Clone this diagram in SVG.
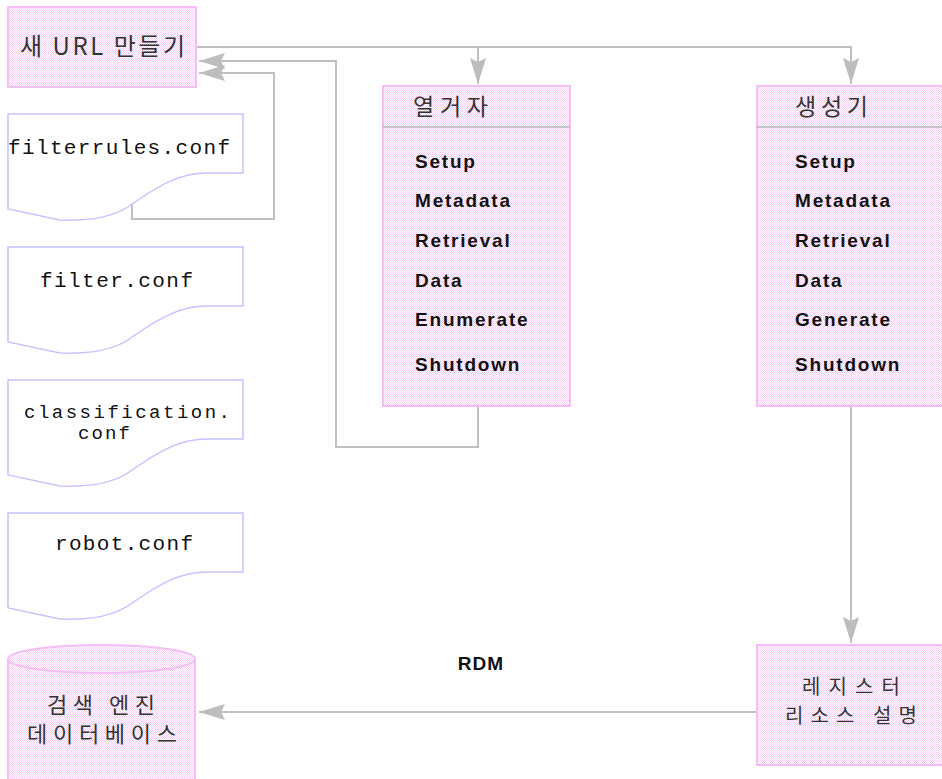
<svg xmlns="http://www.w3.org/2000/svg" width="942" height="779" viewBox="0 0 942 779">
<style>
.pk{fill:url(#dots);stroke:#f5bdf5;stroke-width:2}
.doc{fill:#fff;stroke:#c4c4ff;stroke-width:1.5}
.ln{fill:none;stroke:#c0c0c0;stroke-width:2}
.ko{font-family:"Noto Sans CJK KR","Noto Sans",sans-serif;font-size:22px;fill:#333}
.mono{font-family:"Liberation Mono",monospace;font-size:21px;fill:#111}
.lb{font-family:"Liberation Sans",Arial,sans-serif;font-weight:bold;font-size:19px;letter-spacing:1.8px;fill:#111}
.div{stroke:#b8b8b8;stroke-width:1.5}
</style>
<defs>
<pattern id="dots" width="2" height="2" patternUnits="userSpaceOnUse">
<rect width="2" height="2" fill="#fff"/>
<rect width="1" height="1" fill="#f7cdf7"/>
<rect x="1" y="1" width="1" height="1" fill="#f7cdf7"/>
</pattern>
<marker id="ah" markerUnits="userSpaceOnUse" markerWidth="28" markerHeight="18" refX="26" refY="8" orient="auto">
<path d="M0,0 L26,8 L0,16 L4,8 Z" fill="#bdbdbd"/>
</marker>
</defs>

<g id="connectors">
<path class="ln" d="M196,47 H851 V84" marker-end="url(#ah)"/>
<path class="ln" d="M478,47 V84" marker-end="url(#ah)"/>
<path class="ln" d="M478,406 V447 H336 V61 H199" marker-end="url(#ah)"/>
<path class="ln" d="M132,204 V219 H274 V73 H199" marker-end="url(#ah)"/>
<path class="ln" d="M851,406 V643" marker-end="url(#ah)"/>
<path class="ln" d="M757,712 H199" marker-end="url(#ah)"/>
<text x="481" y="670" text-anchor="middle" class="lb" style="letter-spacing:1px">RDM</text>
</g>

<g id="new-url">
<rect class="pk" x="8" y="7" width="188" height="80"/>
<text class="ko" x="20" y="55" textLength="165" lengthAdjust="spacing" style="font-size:24px">새 URL 만들기</text>
</g>

<g id="filterrules">
<path class="doc" d="M8,114 H243 V173 H207 C180,173 160,185 135,202 C115,218 90,221 60,220 L8,209 Z"/>
<text class="mono" x="8" y="154" textLength="222" lengthAdjust="spacing">filterrules.conf</text>
</g>

<g id="filter">
<path class="doc" d="M8,247 H243 V306 H207 C180,306 160,318 135,335 C115,351 90,354 60,353 L8,342 Z"/>
<text class="mono" x="40" y="287" textLength="153" lengthAdjust="spacing">filter.conf</text>
</g>

<g id="classification">
<path class="doc" d="M8,380 H243 V439 H207 C180,439 160,451 135,468 C115,484 90,487 60,486 L8,475 Z"/>
<text class="mono" x="24" y="418" textLength="206" lengthAdjust="spacing" style="font-size:19px">classification.</text>
<text class="mono" x="78" y="439" textLength="52" lengthAdjust="spacing" style="font-size:19px">conf</text>
</g>

<g id="robot">
<path class="doc" d="M8,513 H243 V572 H207 C180,572 160,584 135,601 C115,617 90,620 60,619 L8,608 Z"/>
<text class="mono" x="55" y="550" textLength="138" lengthAdjust="spacing">robot.conf</text>
</g>

<g id="database">
<path class="pk" d="M8,659 V790 H195 V659"/>
<ellipse class="pk" cx="101.5" cy="659" rx="93.5" ry="14"/>
<text class="ko" x="47" y="713" textLength="108" lengthAdjust="spacing">검색 엔진</text>
<text class="ko" x="27" y="742" textLength="150" lengthAdjust="spacing">데이터베이스</text>
</g>

<g id="enumerator">
<rect class="pk" x="383" y="86" width="187" height="320"/>
<line class="div" x1="383" y1="127" x2="570" y2="127"/>
<text class="ko" x="413" y="115" textLength="75" lengthAdjust="spacing" style="font-size:23px">열거자</text>
<text class="lb" x="415" y="168">Setup</text>
<text class="lb" x="415" y="207">Metadata</text>
<text class="lb" x="415" y="247">Retrieval</text>
<text class="lb" x="415" y="287">Data</text>
<text class="lb" x="415" y="326">Enumerate</text>
<text class="lb" x="415" y="371">Shutdown</text>
</g>

<g id="generator">
<rect class="pk" x="757" y="86" width="195" height="320"/>
<line class="div" x1="757" y1="127" x2="952" y2="127"/>
<text class="ko" x="795" y="115" textLength="73" lengthAdjust="spacing" style="font-size:23px">생성기</text>
<text class="lb" x="795" y="168">Setup</text>
<text class="lb" x="795" y="207">Metadata</text>
<text class="lb" x="795" y="247">Retrieval</text>
<text class="lb" x="795" y="287">Data</text>
<text class="lb" x="795" y="326">Generate</text>
<text class="lb" x="795" y="371">Shutdown</text>
</g>

<g id="register">
<rect class="pk" x="757" y="645" width="195" height="120"/>
<text class="ko" x="802" y="694" textLength="98" lengthAdjust="spacing" style="font-size:20px">레지스터</text>
<text class="ko" x="785" y="723" textLength="132" lengthAdjust="spacing" style="font-size:20px">리소스 설명</text>
</g>
</svg>
